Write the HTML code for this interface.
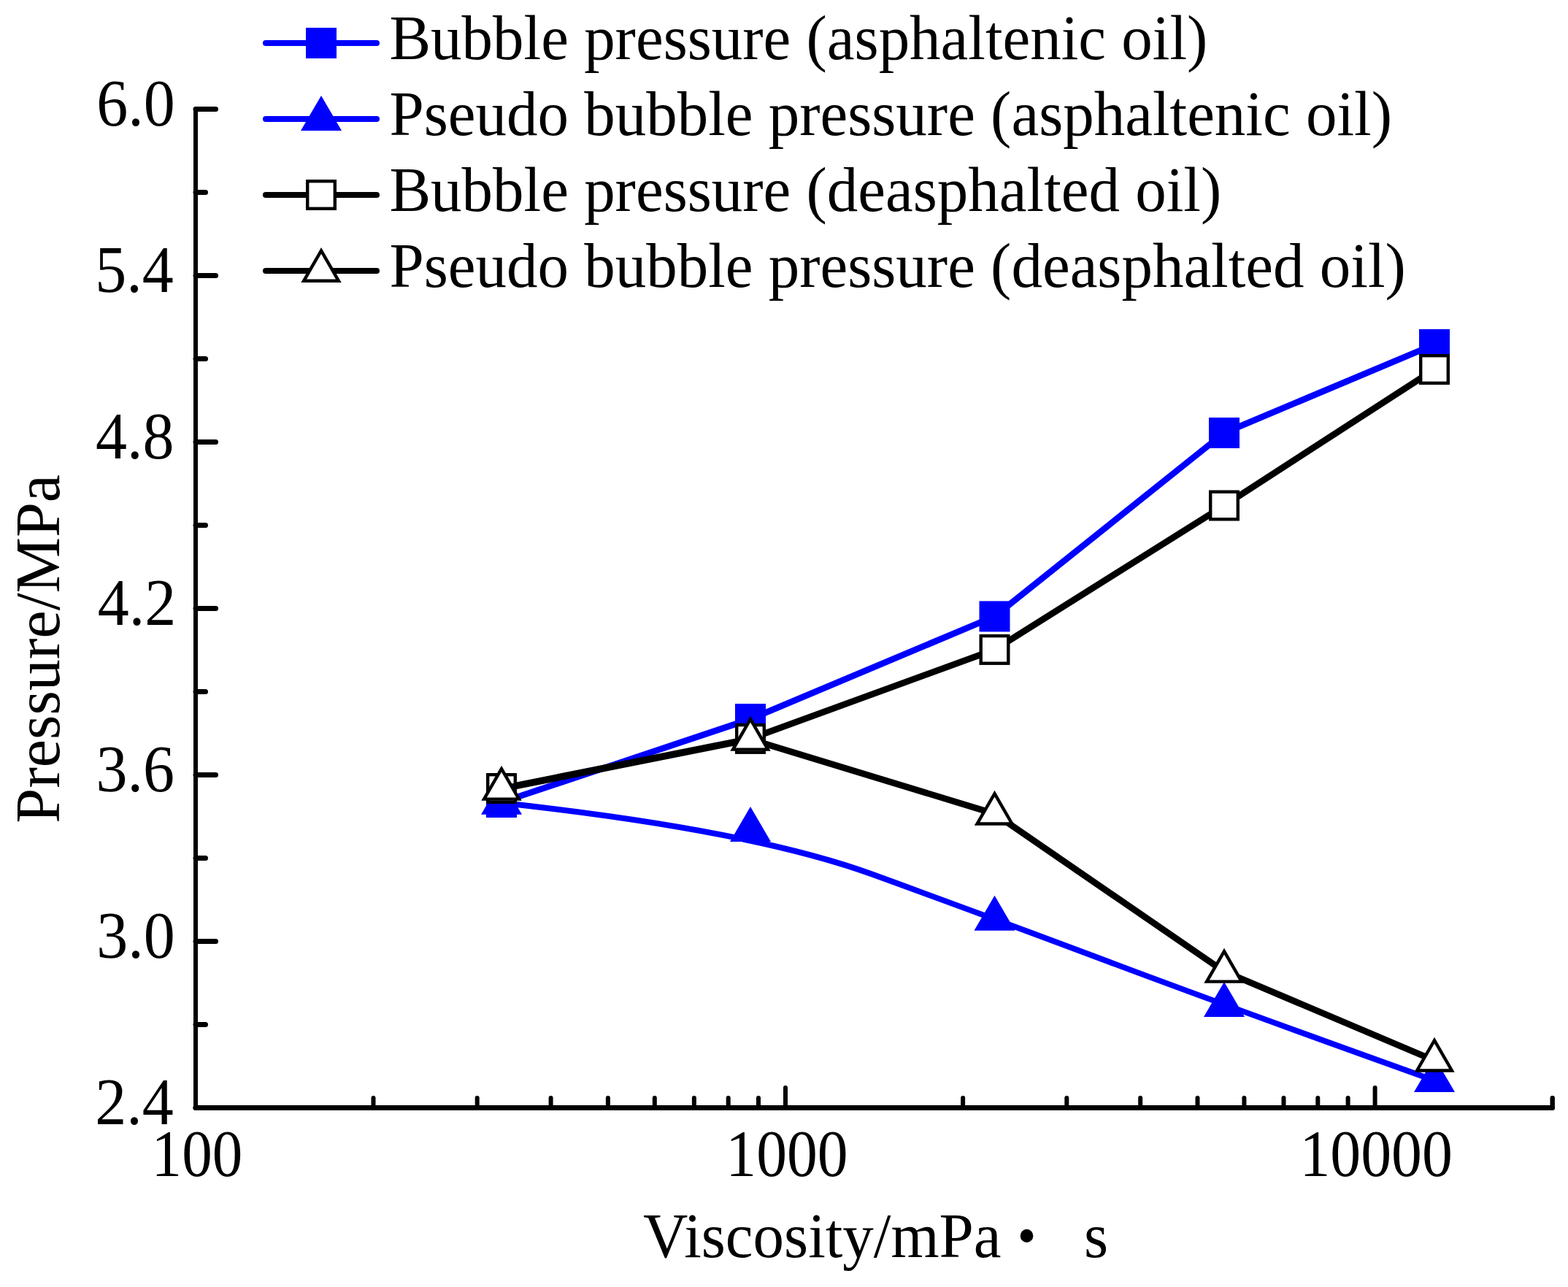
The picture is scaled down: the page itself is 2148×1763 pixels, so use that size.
<!DOCTYPE html>
<html><head><meta charset="utf-8"><style>html,body{margin:0;padding:0;background:#fff;}svg{display:block;}</style></head>
<body>
<svg width="2148" height="1763" viewBox="0 0 2148 1763">
<rect width="100%" height="100%" fill="#fff"/>
<g stroke="#000" stroke-linecap="round" fill="none">
<line x1="268" y1="149.5" x2="268" y2="1517.5" stroke-width="6"/>
<line x1="268" y1="1517.5" x2="2126.5" y2="1517.5" stroke-width="7"/>
<line x1="268" y1="149.5" x2="295.5" y2="149.5" stroke-width="7"/>
<line x1="268" y1="377.5" x2="295.5" y2="377.5" stroke-width="7"/>
<line x1="268" y1="605.5" x2="295.5" y2="605.5" stroke-width="7"/>
<line x1="268" y1="833.5" x2="295.5" y2="833.5" stroke-width="7"/>
<line x1="268" y1="1061.5" x2="295.5" y2="1061.5" stroke-width="7"/>
<line x1="268" y1="1289.5" x2="295.5" y2="1289.5" stroke-width="7"/>
<line x1="268" y1="1517.5" x2="295.5" y2="1517.5" stroke-width="7"/>
<line x1="268" y1="263.5" x2="281.5" y2="263.5" stroke-width="7"/>
<line x1="268" y1="491.5" x2="281.5" y2="491.5" stroke-width="7"/>
<line x1="268" y1="719.5" x2="281.5" y2="719.5" stroke-width="7"/>
<line x1="268" y1="947.5" x2="281.5" y2="947.5" stroke-width="7"/>
<line x1="268" y1="1175.5" x2="281.5" y2="1175.5" stroke-width="7"/>
<line x1="268" y1="1403.5" x2="281.5" y2="1403.5" stroke-width="7"/>
<line x1="1076.0" y1="1517.5" x2="1076.0" y2="1490" stroke-width="6"/>
<line x1="1883.6" y1="1517.5" x2="1883.6" y2="1490" stroke-width="6"/>
<line x1="511.5" y1="1517.5" x2="511.5" y2="1504" stroke-width="6"/>
<line x1="653.7" y1="1517.5" x2="653.7" y2="1504" stroke-width="6"/>
<line x1="754.6" y1="1517.5" x2="754.6" y2="1504" stroke-width="6"/>
<line x1="832.9" y1="1517.5" x2="832.9" y2="1504" stroke-width="6"/>
<line x1="896.8" y1="1517.5" x2="896.8" y2="1504" stroke-width="6"/>
<line x1="950.9" y1="1517.5" x2="950.9" y2="1504" stroke-width="6"/>
<line x1="997.7" y1="1517.5" x2="997.7" y2="1504" stroke-width="6"/>
<line x1="1039.0" y1="1517.5" x2="1039.0" y2="1504" stroke-width="6"/>
<line x1="1319.1" y1="1517.5" x2="1319.1" y2="1504" stroke-width="6"/>
<line x1="1461.3" y1="1517.5" x2="1461.3" y2="1504" stroke-width="6"/>
<line x1="1562.2" y1="1517.5" x2="1562.2" y2="1504" stroke-width="6"/>
<line x1="1640.5" y1="1517.5" x2="1640.5" y2="1504" stroke-width="6"/>
<line x1="1704.4" y1="1517.5" x2="1704.4" y2="1504" stroke-width="6"/>
<line x1="1758.5" y1="1517.5" x2="1758.5" y2="1504" stroke-width="6"/>
<line x1="1805.3" y1="1517.5" x2="1805.3" y2="1504" stroke-width="6"/>
<line x1="1846.6" y1="1517.5" x2="1846.6" y2="1504" stroke-width="6"/>
<line x1="2126.7" y1="1517.5" x2="2126.7" y2="1504" stroke-width="6"/>
<line x1="2126.7" y1="1517.5" x2="2126.7" y2="1504" stroke-width="6"/>
</g>
<polyline points="687,1099 1028,985 1362.5,844.4 1677,593 1965,471.9" fill="none" stroke="#0000ff" stroke-width="8.6" stroke-linejoin="round"/>
<rect x="666.0" y="1078.0" width="42" height="42" fill="#0000ff"/>
<rect x="1007.0" y="964.0" width="42" height="42" fill="#0000ff"/>
<rect x="1341.5" y="823.4" width="42" height="42" fill="#0000ff"/>
<rect x="1656.0" y="572.0" width="42" height="42" fill="#0000ff"/>
<rect x="1944.0" y="450.9" width="42" height="42" fill="#0000ff"/>
<path d="M687.00,1099.80 Q1028.00,1136.90 1195.25,1197.80 Q1362.50,1258.70 1519.75,1317.80 Q1677.00,1376.90 1965.00,1480.10" fill="none" stroke="#0000ff" stroke-width="7.9" stroke-linecap="round"/>
<polygon points="687,1067.8 715,1115.8 659,1115.8" fill="#0000ff"/>
<polygon points="1028,1104.9 1056,1152.9 1000,1152.9" fill="#0000ff"/>
<polygon points="1362.5,1226.7 1390.5,1274.7 1334.5,1274.7" fill="#0000ff"/>
<polygon points="1677,1344.9 1705,1392.9 1649,1392.9" fill="#0000ff"/>
<polygon points="1965,1448.1 1993,1496.1 1937,1496.1" fill="#0000ff"/>
<polyline points="687,1080 1028,1011.9 1362.5,889.9 1677,692.5 1965,506" fill="none" stroke="#000" stroke-width="8.8" stroke-linejoin="round"/>
<rect x="668.20" y="1061.20" width="37.6" height="37.6" fill="#fff" stroke="#000" stroke-width="4.4"/>
<rect x="1009.20" y="993.10" width="37.6" height="37.6" fill="#fff" stroke="#000" stroke-width="4.4"/>
<rect x="1343.70" y="871.10" width="37.6" height="37.6" fill="#fff" stroke="#000" stroke-width="4.4"/>
<rect x="1658.20" y="673.70" width="37.6" height="37.6" fill="#fff" stroke="#000" stroke-width="4.4"/>
<rect x="1946.20" y="487.20" width="37.6" height="37.6" fill="#fff" stroke="#000" stroke-width="4.4"/>
<polyline points="687,1080.8 1028,1012.8 1362.5,1114.7 1677,1330.8 1965,1452.7" fill="none" stroke="#000" stroke-width="8.8" stroke-linejoin="round"/>
<polygon points="687,1053.2 710.90,1094.6 663.10,1094.6" fill="#fff" stroke="#000" stroke-width="4.4" stroke-linejoin="miter"/>
<polygon points="1028,985.1999999999999 1051.90,1026.6 1004.10,1026.6" fill="#fff" stroke="#000" stroke-width="4.4" stroke-linejoin="miter"/>
<polygon points="1362.5,1087.1000000000001 1386.40,1128.5 1338.60,1128.5" fill="#fff" stroke="#000" stroke-width="4.4" stroke-linejoin="miter"/>
<polygon points="1677,1303.2 1700.90,1344.6 1653.10,1344.6" fill="#fff" stroke="#000" stroke-width="4.4" stroke-linejoin="miter"/>
<polygon points="1965,1425.1000000000001 1988.90,1466.5 1941.10,1466.5" fill="#fff" stroke="#000" stroke-width="4.4" stroke-linejoin="miter"/>
<g stroke-linecap="round" stroke-width="8">
<line x1="364" y1="59" x2="516" y2="59" stroke="#0000ff"/>
<line x1="364" y1="163" x2="516" y2="163" stroke="#0000ff"/>
<line x1="364" y1="267" x2="516" y2="267" stroke="#000"/>
<line x1="364" y1="371" x2="516" y2="371" stroke="#000"/>
</g>
<rect x="419.0" y="38.0" width="42" height="42" fill="#0000ff"/>
<polygon points="440,131 468,179 412,179" fill="#0000ff"/>
<rect x="421.20" y="248.20" width="37.6" height="37.6" fill="#fff" stroke="#000" stroke-width="4.4"/>
<polygon points="440,343.4 463.90,384.8 416.10,384.8" fill="#fff" stroke="#000" stroke-width="4.4" stroke-linejoin="miter"/>
<g font-family="Liberation Serif, Times New Roman, serif" font-size="85" fill="#000">
<text transform="translate(533.4,81) scale(1,1.018)">Bubble pressure (asphaltenic oil)</text>
<text transform="translate(533.4,185) scale(1,1.018)">Pseudo bubble pressure (asphaltenic oil)</text>
<text transform="translate(533.4,289) scale(1,1.018)">Bubble pressure (deasphalted oil)</text>
<text transform="translate(533.4,393) scale(1,1.018)">Pseudo bubble pressure (deasphalted oil)</text>
</g>
<g font-family="Liberation Serif, Times New Roman, serif" font-size="86" fill="#000">
<text transform="translate(132.28,171.80) scale(1,1.058)">6.0</text>
<text transform="translate(130.36,399.80) scale(1,1.058)">5.4</text>
<text transform="translate(131.08,627.80) scale(1,1.058)">4.8</text>
<text transform="translate(133.80,855.80) scale(1,1.058)">4.2</text>
<text transform="translate(131.42,1083.80) scale(1,1.058)">3.6</text>
<text transform="translate(132.28,1311.80) scale(1,1.058)">3.0</text>
<text transform="translate(130.36,1539.80) scale(1,1.058)">2.4</text>
</g>
<g font-family="Liberation Serif, Times New Roman, serif" font-size="86" fill="#000">
<text transform="translate(207.60,1611) scale(0.9662,1.058)">100</text>
<text transform="translate(994.36,1611) scale(0.9727,1.058)">1000</text>
<text transform="translate(1780.45,1611) scale(0.9735,1.058)">10000</text>
</g>
<text font-family="Liberation Serif, Times New Roman, serif" font-size="85" transform="translate(0,1721.6) scale(1,1.02)"><tspan x="880.9" y="0">Viscosity/mPa</tspan><tspan x="1393.6" y="-3.6" font-size="74.4">•</tspan><tspan x="1485" y="0">s</tspan></text>
<text font-family="Liberation Serif, Times New Roman, serif" font-size="86" transform="translate(80.8,1127.7) rotate(-90)">Pressure/MPa</text>
</svg>
</body></html>
